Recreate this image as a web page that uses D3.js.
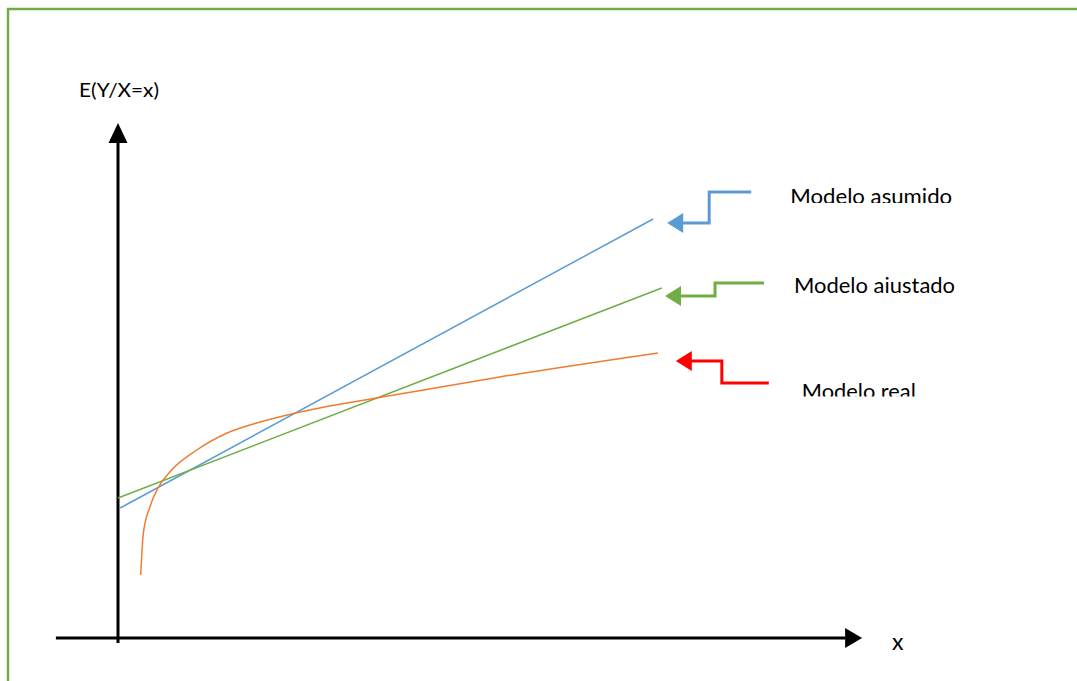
<!DOCTYPE html>
<html>
<head>
<meta charset="utf-8">
<script src="https://cdn.jsdelivr.net/npm/d3@7"></script>
<style>
  body { margin: 0; background: #fff; }
  svg { display: block; }
  text { font-family: Lato, "Open Sans", sans-serif; fill: #000; }
</style>
</head>
<body>
<svg id="chart" width="1077" height="681"></svg>
<script>
// model lines, in data units (x 0..10, y 0..10)
var asumidoX = [0.04, 9.91];
var asumidoY = [2.6, 8.38];
var ajustadoX = [0, 10.07];
var ajustadoY = [2.8, 7.0];
var realX = [0.42, 0.47, 0.59, 0.74, 0.96, 1.46, 2.02, 2.63, 3.37, 5.22, 7.07, 10.0];
var realY = [1.26, 2.1, 2.62, 3.0, 3.32, 3.76, 4.1, 4.32, 4.52, 4.88, 5.22, 5.7];

// axis extents
var xAxisExtent = [-1.15, 13.78];
var yAxisExtent = [-0.1, 10.3];

// legend
var legendLabels = ["Modelo asumido", "Modelo ajustado", "Modelo real"];
var legendColors = ["#5b9bd5", "#70ad47", "#ff0000"];
var legendTipX = [10.17, 10.13, 10.33];
var legendTipY = [8.3, 6.84, 5.54];

var svg = d3.select("#chart");

var x = d3.scaleLinear().domain([0, 10]).range([118, 658]);
var y = d3.scaleLinear().domain([0, 10]).range([638, 138]);

// frame
svg.append("rect")
    .attr("x", 8).attr("y", 9)
    .attr("width", 1100).attr("height", 700)
    .attr("fill", "none")
    .attr("stroke", "#70ad47")
    .attr("stroke-width", 2.5);

// axes with arrow heads
var head = 17, half = 10;
svg.append("line") // x axis
    .attr("x1", x(xAxisExtent[0])).attr("x2", x(xAxisExtent[1]) - head)
    .attr("y1", y(0)).attr("y2", y(0))
    .attr("stroke", "#000").attr("stroke-width", 3);
svg.append("path")
    .attr("d", "M" + x(xAxisExtent[1]) + "," + y(0) +
        "L" + (x(xAxisExtent[1]) - head) + "," + (y(0) - half) +
        "L" + (x(xAxisExtent[1]) - head) + "," + (y(0) + half) + "Z")
    .attr("fill", "#000");

svg.append("line") // y axis
    .attr("x1", x(0)).attr("x2", x(0))
    .attr("y1", y(yAxisExtent[0])).attr("y2", y(yAxisExtent[1]) + head + 3)
    .attr("stroke", "#000").attr("stroke-width", 3);
svg.append("path")
    .attr("d", "M" + x(0) + "," + y(yAxisExtent[1]) +
        "L" + (x(0) - 9.5) + "," + (y(yAxisExtent[1]) + head + 3) +
        "L" + (x(0) + 9.5) + "," + (y(yAxisExtent[1]) + head + 3) + "Z")
    .attr("fill", "#000");

svg.append("text")
    .attr("x", 79).attr("y", 97)
    .attr("font-size", 20)
    .attr("textLength", 80).attr("lengthAdjust", "spacingAndGlyphs")
    .text("E(Y/X=x)");
svg.append("text")
    .attr("x", x(xAxisExtent[1]) + 30).attr("y", 650)
    .attr("font-size", 23)
    .text("x");

// model lines
var line = d3.line()
    .x(function (d) { return x(d[0]); })
    .y(function (d) { return y(d[1]); });

svg.append("path")
    .datum(d3.zip(asumidoX, asumidoY))
    .attr("d", line)
    .attr("fill", "none").attr("stroke", "#5b9bd5").attr("stroke-width", 1.5);

svg.append("path")
    .datum(d3.zip(ajustadoX, ajustadoY))
    .attr("d", line)
    .attr("fill", "none").attr("stroke", "#70ad47").attr("stroke-width", 1.5);

svg.append("path")
    .datum(d3.zip(realX, realY))
    .attr("d", line.curve(d3.curveMonotoneX))
    .attr("fill", "none").attr("stroke", "#ed7d31").attr("stroke-width", 1.5);

// legend arrows (elbow offsets in px)
var elbowDx = [42, 50, 46];
var elbowDy = [-31, -13, 22];
var endDx = [84, 99, 93];
var textDx = [123, 129, 126];
var textDy = [-19, -3, 38];
var textW = [162, 161, 114];
var clipDy = [-20, -3, 35.5];

legendLabels.forEach(function (lab, i) {
    var tx = x(legendTipX[i]), ty = y(legendTipY[i]);
    svg.append("path")
        .attr("d", "M" + tx + "," + ty + "L" + (tx + 16) + "," + (ty - 10) + "L" + (tx + 16) + "," + (ty + 10) + "Z")
        .attr("fill", legendColors[i]);
    svg.append("path")
        .attr("d", "M" + (tx + 15) + "," + ty +
            "H" + (tx + elbowDx[i]) +
            "V" + (ty + elbowDy[i]) +
            "H" + (tx + endDx[i]))
        .attr("fill", "none").attr("stroke", legendColors[i]).attr("stroke-width", 3);

    var clipId = "clip" + i;
    svg.append("clipPath").attr("id", clipId)
        .append("rect")
        .attr("x", tx + textDx[i] - 5).attr("y", ty + textDy[i] - 30)
        .attr("width", textW[i] + 20).attr("height", 30 + clipDy[i] - textDy[i]);
    svg.append("text")
        .attr("clip-path", "url(#" + clipId + ")")
        .attr("x", tx + textDx[i]).attr("y", ty + textDy[i])
        .attr("font-size", 21)
        .attr("textLength", textW[i]).attr("lengthAdjust", "spacingAndGlyphs")
        .text(lab);
});
</script>
</body>
</html>
